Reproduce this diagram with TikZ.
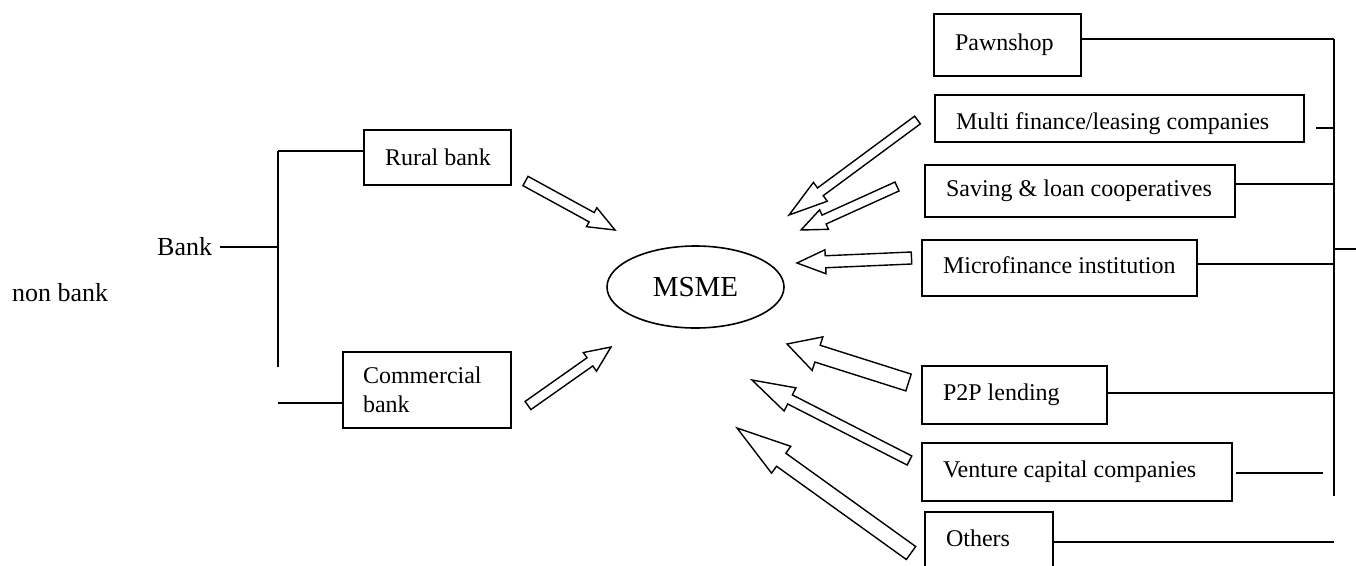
\documentclass[tikz,border=0pt]{standalone}
\usepackage{fontspec}
\setmainfont{Liberation Serif}
\usetikzlibrary{calc,shapes.geometric}
\newcommand\myboxfont{\fontsize{24pt}{29pt}\selectfont}
\newcommand\mylabelfont{\fontsize{26pt}{31pt}\selectfont}
\newcommand\mymsmefont{\fontsize{29pt}{34pt}\selectfont}
\newcommand\lefttext[2]{\makebox[#1][l]{#2}}
% #1 name, #2 tail, #3 tip, #4 shaft half width, #5 head half width, #6 head length
\newcommand\blockarr[6]{%
  \coordinate (#1h) at ($(#3)!#6!(#2)$);
  \draw[blockarrow] ($(#2)!#4!90:(#3)$) -- ($(#1h)!#4!-90:(#2)$) -- ($(#1h)!#5!-90:(#2)$) -- (#3)
     -- ($(#1h)!#5!90:(#2)$) -- ($(#1h)!#4!90:(#2)$) -- ($(#2)!#4!-90:(#3)$) -- cycle;}
\tikzset{
  srcbase/.style={draw, line width=2pt, anchor=north west, inner xsep=21pt, inner ysep=0pt, font=\myboxfont},
  srcbox/.style={srcbase, text height=16pt, text depth=5pt},
  conn/.style={line width=2pt},
  blockarrow/.style={draw, line width=1.4pt, line join=miter, fill=white},
  lbl/.style={anchor=base west, inner sep=0pt, font=\mylabelfont}
}
\begin{document}
\begin{tikzpicture}[x=1pt,y=-1pt]
\useasboundingbox (0,0) rectangle (1356,565);
\clip (0,0) rectangle (1356,565);

% left labels
\node[lbl] (bank) at (157,255) {Bank};
\node[lbl] (nonbank) at (12,301) {non bank};

% bank boxes
\node[srcbox, minimum width=147pt, minimum height=55pt, text height=16pt, text depth=1pt] (rural) at (363,129) {\lefttext{105pt}{Rural bank}};
\node[srcbase, align=left, inner xsep=20pt, minimum width=168pt, minimum height=76pt, text width=128pt] (comm) at (342,351) {Commercial\\bank};

% MSME
\node[draw, ellipse, line width=1.6pt, minimum width=177pt, minimum height=82pt, inner sep=0pt, font=\mymsmefont] (msme) at (695.5,287) {MSME};

% non-bank boxes
\node[srcbox, minimum width=147pt, minimum height=62pt] (pawn) at (933,13) {\lefttext{105pt}{Pawnshop}};
\node[srcbox, minimum width=369pt, minimum height=47pt, text height=21pt, text depth=0pt] (multi) at (934,94) {\lefttext{327pt}{Multi finance/leasing companies}};
\node[srcbox, minimum width=310pt, minimum height=52pt] (saving) at (924,164) {\lefttext{268pt}{Saving \& loan cooperatives}};
\node[srcbox, minimum width=275pt, minimum height=56pt] (micro) at (921,239) {\lefttext{233pt}{Microfinance institution}};
\node[srcbox, minimum width=185pt, minimum height=58pt] (p2p) at (921,365) {\lefttext{143pt}{P2P lending}};
\node[srcbox, minimum width=310pt, minimum height=58pt] (venture) at (921,442) {\lefttext{268pt}{Venture capital companies}};
\node[srcbox, minimum width=128pt, minimum height=57pt] (others) at (924,511) {\lefttext{86pt}{Others}};

% left tree
\coordinate (bj) at (278,247);
\coordinate (btop) at (278,151);
\coordinate (bbot) at (278,367);
\coordinate (cj) at (278,403);
\draw[conn] ([xshift=8pt]bank.east |- bj) -- (bj);
\draw[conn] (btop) -- (bbot);
\draw[conn] (btop) -- (btop -| rural.west);
\draw[conn] (cj) -- (cj -| comm.west);

% right tree
\coordinate (rtop) at (1334,39);
\coordinate (rbot) at (1334,496);
\coordinate (r2) at (1334,128);
\coordinate (r3) at (1334,184);
\coordinate (r4) at (1334,264);
\coordinate (r5) at (1334,249);
\coordinate (redge) at (1356,249);
\coordinate (r6) at (1334,393);
\coordinate (r7) at (1323,473);
\coordinate (r8) at (1334,542);
\draw[conn] (rtop) -- (rbot);
\draw[conn] (pawn.east |- rtop) -- (rtop);
\draw[conn] ([xshift=11pt]multi.east |- r2) -- (r2);
\draw[conn] (saving.east |- r3) -- (r3);
\draw[conn] (micro.east |- r4) -- (r4);
\draw[conn] (r5) -- (redge);
\draw[conn] (p2p.east |- r6) -- (r6);
\draw[conn] ([xshift=3pt]venture.east |- r7) -- (r7);
\draw[conn] (others.east |- r8) -- (r8);

% block arrows
\coordinate (t1) at (525.5,181);   \coordinate (p1) at (615,230);
\coordinate (t2) at (528,405.5);   \coordinate (p2) at (611,347);
\coordinate (t3) at (917.5,120);   \coordinate (p3) at (789,215);
\coordinate (t4) at (897,186.5);   \coordinate (p4) at (801,230);
\coordinate (t5) at (911.5,258);   \coordinate (p5) at (797,263);
\coordinate (t6) at (908.5,382.5); \coordinate (p6) at (787,344);
\coordinate (t7) at (909.5,460.5); \coordinate (p7) at (752,380);
\coordinate (t8) at (911,553);     \coordinate (p8) at (737,428);
\blockarr{a1}{t1}{p1}{5.3pt}{10.8pt}{26.6pt}
\blockarr{a2}{t2}{p2}{5pt}{11.4pt}{25.8pt}
\blockarr{a3}{t3}{p3}{4.8pt}{11.7pt}{39pt}
\blockarr{a4}{t4}{p4}{4.9pt}{10.7pt}{25.3pt}
\blockarr{a5}{t5}{p5}{6pt}{12pt}{28.5pt}
\blockarr{a6}{t6}{p6}{8.8pt}{17.6pt}{32pt}
\blockarr{a7}{t7}{p7}{5.1pt}{13pt}{42.7pt}
\blockarr{a8}{t8}{p8}{8pt}{16.5pt}{54.4pt}
\end{tikzpicture}
\end{document}
